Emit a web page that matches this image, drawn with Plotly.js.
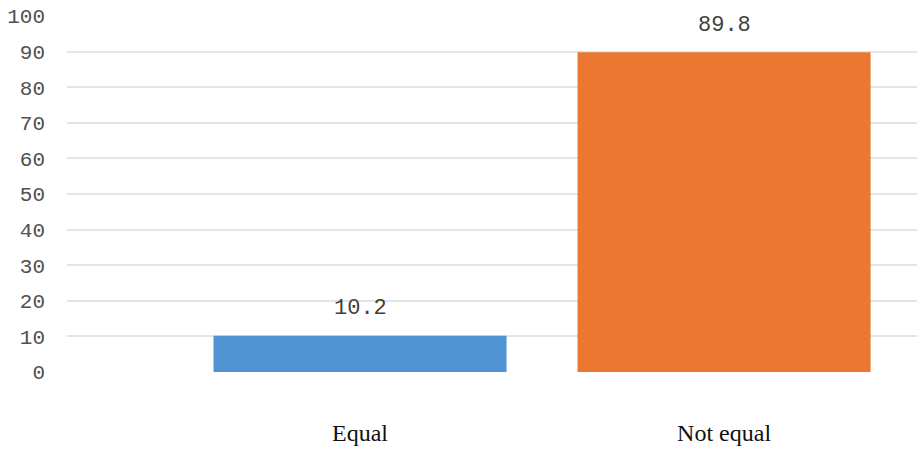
<!DOCTYPE html>
<html>
<head>
<meta charset="utf-8">
<script src="https://cdn.plot.ly/plotly-3.0.1.min.js"></script>
<style>html,body{margin:0;padding:0;background:#fff;}#chart{width:917px;height:450px;}</style>
</head>
<body>
<div id="chart"></div>
<script>
const categories = ["Equal", "Not equal"];
const values = [10.2, 89.8];
const labels = ["10.2", "89.8"];
const barColors = ["#5094d4", "#eb7731"];
const yTicks = [0, 10, 20, 30, 40, 50, 60, 70, 80, 90, 100];

const trace = {
  type: "bar",
  x: categories,
  y: values,
  width: 0.805,
  marker: {color: barColors, line: {width: 0}},
  hoverinfo: "x+y"
};

const annotations = categories.map((c, i) => ({
  x: c, y: values[i], text: labels[i], showarrow: false,
  yshift: 27, xanchor: "center", yanchor: "middle",
  font: {family: "Liberation Mono, Courier New, monospace", size: 22, color: "#404040"}
}));

const layout = {
  width: 917, height: 450,
  margin: {l: 67, r: 0, t: 16, b: 78},
  paper_bgcolor: "#fff", plot_bgcolor: "#fff",
  showlegend: false,
  xaxis: {
    type: "category",
    range: [-0.805, 1.53],
    showgrid: false, zeroline: false, showline: false,
    ticks: "", ticklabelstandoff: 44,
    tickfont: {family: "Liberation Serif, Times New Roman, serif", size: 24, color: "#111111"}
  },
  yaxis: {
    range: [0, 100],
    tickvals: yTicks,
    ticktext: yTicks.map(String),
    showgrid: true, gridcolor: "#e1e5ea", gridwidth: 2,
    zeroline: false, showline: false, ticks: "",
    ticklabelstandoff: 21,
    tickfont: {family: "Liberation Mono, Courier New, monospace", size: 21, color: "#505050"}
  },
  annotations: annotations
};

Plotly.newPlot("chart", [trace], layout, {displayModeBar: false, staticPlot: true});
</script>
</body>
</html>
